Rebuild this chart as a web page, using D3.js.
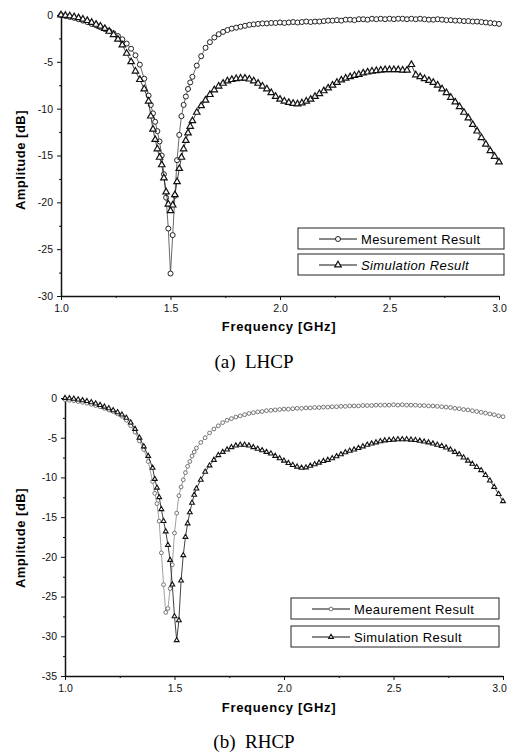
<!DOCTYPE html>
<html>
<head>
<meta charset="utf-8">
<script src="https://cdn.jsdelivr.net/npm/d3@7"></script>
<style>
  body { margin: 0; background: #fff; }
  svg { display: block; }
  .tick text { font-family: "Liberation Sans", Arial, sans-serif; font-size: 10.5px; fill: #111; }
</style>
</head>
<body>
<div id="chart"></div>
<script>
//DATA--------------------
// frequency samples [GHz], denser around the dip
var freq = [
  1.00, 1.02, 1.04, 1.06, 1.08, 1.10, 1.12, 1.14, 1.16, 1.18, 1.20, 1.22, 1.24, 1.26, 1.28, 1.30, 1.32, 1.34, 1.36, 1.38, 1.40,
  1.41, 1.42, 1.43, 1.44, 1.45, 1.46, 1.47, 1.48, 1.49, 1.50, 1.51, 1.52, 1.53, 1.54, 1.55, 1.56, 1.57, 1.58, 1.59,
  1.60, 1.62, 1.64, 1.66, 1.68, 1.70, 1.72, 1.74, 1.76, 1.78,
  1.80, 1.82, 1.84, 1.86, 1.88, 1.90, 1.92, 1.94, 1.96, 1.98,
  2.00, 2.02, 2.04, 2.06, 2.08, 2.10, 2.12, 2.14, 2.16, 2.18,
  2.20, 2.22, 2.24, 2.26, 2.28, 2.30, 2.32, 2.34, 2.36, 2.38,
  2.40, 2.42, 2.44, 2.46, 2.48, 2.50, 2.52, 2.54, 2.56, 2.58,
  2.60, 2.62, 2.64, 2.66, 2.68, 2.70, 2.72, 2.74, 2.76, 2.78,
  2.80, 2.82, 2.84, 2.86, 2.88, 2.90, 2.92, 2.94, 2.96, 2.98,
  3.00
];

// (a) LHCP
var lhcpMeas = [
  0, -0.1, -0.2, -0.3, -0.45, -0.6, -0.75, -0.95, -1.1, -1.3, -1.5, -1.7, -1.95, -2.25, -2.6, -3.05, -3.6, -4.3, -5.3, -6.8, -8.6,
  -9.6, -10.5, -11.4, -12.4, -13.5, -15.0, -17.0, -19.5, -22.8, -27.6, -23.5, -19.3, -15.5, -12.8, -10.8, -9.6, -8.7, -7.9, -7.2,
  -6.6, -5.4, -4.4, -3.5, -2.9, -2.4, -2.05, -1.8, -1.6, -1.45,
  -1.35, -1.25, -1.15, -1.05, -1.0, -0.95, -0.9, -0.9, -0.85, -0.85,
  -0.8, -0.85, -0.8, -0.75, -0.8, -0.75, -0.7, -0.75, -0.7, -0.7,
  -0.65, -0.6, -0.6, -0.55, -0.6, -0.5, -0.5, -0.55, -0.45, -0.45,
  -0.5, -0.4, -0.45, -0.4, -0.45, -0.4, -0.45, -0.4, -0.4, -0.45,
  -0.4, -0.45, -0.4, -0.45, -0.5, -0.5, -0.45, -0.5, -0.55, -0.55,
  -0.6, -0.6, -0.65, -0.65, -0.7, -0.7, -0.75, -0.8, -0.85, -0.9,
  -0.95
];
var lhcpSim = [
  0, -0.05, -0.1, -0.2, -0.3, -0.45, -0.6, -0.8, -1.0, -1.2, -1.45, -1.75, -2.1, -2.6, -3.2, -4.1, -5.0, -6.0, -6.9, -7.9, -9.2,
  -10.8, -12.2, -13.3, -14.3, -15.2, -16.0, -17.4, -18.9, -20.2, -20.9, -20.3, -19.2, -17.8, -16.4, -15.2, -14.3, -13.4, -12.6, -11.9,
  -11.3, -10.4, -9.7, -9.1, -8.5, -8.0, -7.6, -7.3, -7.05, -6.9,
  -6.8, -6.75, -6.75, -6.85, -7.05, -7.3, -7.6, -7.9, -8.3, -8.7,
  -9.0, -9.2, -9.35, -9.45, -9.5, -9.4, -9.2, -9.0, -8.7, -8.4,
  -8.1, -7.8, -7.5, -7.2, -6.95, -6.75, -6.6, -6.45, -6.35, -6.2,
  -6.1, -6.0, -5.95, -5.9, -5.85, -5.85, -5.85, -5.85, -5.9, -5.9,
  -5.3, -6.4, -6.6, -6.8, -7.0, -7.2, -7.5, -7.9, -8.3, -8.8,
  -9.3, -9.8, -10.4, -11.0, -11.7, -12.4, -13.1, -13.8, -14.5, -15.1,
  -15.7
];

// (b) RHCP
var rhcpMeas = [
  -0.2, -0.3, -0.35, -0.45, -0.55, -0.65, -0.8, -0.95, -1.1, -1.3, -1.5, -1.7, -2.0, -2.3, -2.8, -3.5, -4.3, -5.4, -6.5, -8.0, -10.5,
  -12.0, -13.3, -15.5, -19.5, -23.5, -27.0, -26.5, -24.0, -21.0, -17.0, -14.5, -12.3, -11.2, -10.3, -9.4, -8.6, -8.0, -7.3, -6.8,
  -6.3, -5.6, -5.0, -4.4, -3.9, -3.5, -3.1, -2.8, -2.6, -2.4,
  -2.25, -2.1, -1.95, -1.85, -1.75, -1.7, -1.6, -1.55, -1.5, -1.45,
  -1.4, -1.4, -1.35, -1.3, -1.3, -1.25, -1.25, -1.2, -1.2, -1.15,
  -1.15, -1.1, -1.1, -1.05, -1.05, -1.0, -1.0, -1.0, -0.95, -0.95,
  -0.95, -0.9, -0.9, -0.9, -0.9, -0.85, -0.9, -0.85, -0.9, -0.9,
  -0.9, -0.95, -0.95, -1.0, -1.0, -1.05, -1.1, -1.15, -1.2, -1.3,
  -1.35, -1.45, -1.5, -1.6, -1.7, -1.8, -1.9, -2.0, -2.1, -2.25,
  -2.35
];
var rhcpSim = [
  0, -0.05, -0.1, -0.2, -0.3, -0.4, -0.55, -0.7, -0.9, -1.1, -1.3, -1.55, -1.8, -2.1, -2.5, -3.1, -3.9, -5.0, -6.1, -7.3, -8.8,
  -10.2, -11.3, -12.5, -14.0, -15.5, -16.8, -18.5, -20.4, -23.5, -27.5, -30.5, -28.0, -23.0, -19.8, -17.5, -15.8, -14.4, -13.2, -12.2,
  -11.4, -10.3, -9.3, -8.5, -7.8, -7.2, -6.8, -6.5, -6.2, -6.0,
  -5.9, -5.9, -6.0, -6.2, -6.4, -6.6, -6.8, -7.0, -7.3, -7.6,
  -7.9, -8.2, -8.45, -8.65, -8.8, -8.75, -8.55, -8.35, -8.15, -7.95,
  -7.8, -7.6, -7.35, -7.1, -6.85, -6.65, -6.5, -6.3, -6.1, -5.9,
  -5.75, -5.6, -5.45, -5.35, -5.3, -5.25, -5.2, -5.2, -5.2, -5.25,
  -5.3, -5.4, -5.5, -5.6, -5.75, -5.9, -6.05, -6.25, -6.5, -6.8,
  -7.1, -7.5, -7.9, -8.3, -8.7, -9.1, -9.7, -10.4, -11.2, -12.1,
  -13.0
];

var xTicks = [1.0, 1.5, 2.0, 2.5, 3.0];
var xMinorTicks = [1.25, 1.75, 2.25, 2.75];
var lhcpTicks = [0, -5, -10, -15, -20, -25, -30];
var rhcpTicks = [0, -5, -10, -15, -20, -25, -30, -35];
var legendA = ["Mesurement Result", "Simulation Result"];
var legendB = ["Meaurement Result", "Simulation Result"];
var captions = ["(a)  LHCP", "(b)  RHCP"];

//SVG--------------------
var svg = d3.select("#chart")
  .append("svg")
  .attr("width", 509)
  .attr("height", 754);

function drawPanel(p) {
  var x = d3.scaleLinear().domain([1.0, 3.0]).range([p.left, p.right]);
  var y = d3.scaleLinear().domain([p.yMin, 0]).range([p.bottom, p.top]);

  var minorY = [];
  p.yTicks.forEach(function(t) { if (t > p.yMin) minorY.push(t - 2.5); });

  var g = svg.append("g");

  // minor ticks
  g.append("g")
    .attr("transform", `translate(0, ${p.bottom})`)
    .call(d3.axisBottom(x).tickValues(xMinorTicks).tickSize(2).tickFormat(""))
    .call(a => a.select(".domain").remove());
  g.append("g")
    .attr("transform", `translate(${p.left}, 0)`)
    .call(d3.axisLeft(y).tickValues(minorY).tickSize(2).tickFormat(""))
    .call(a => a.select(".domain").remove());

  // major axes
  var xAxis = g.append("g")
    .attr("transform", `translate(0, ${p.bottom})`)
    .call(d3.axisBottom(x).tickValues(xTicks).tickSize(4).tickSizeOuter(0)
      .tickFormat(d3.format(".1f")));
  xAxis.selectAll(".tick text").attr("dy", "0.9em");
  // keep the last label inside the page
  xAxis.selectAll(".tick text").filter(d => d === 3.0).attr("dx", p.lastDx);

  var yAxis = g.append("g")
    .attr("transform", `translate(${p.left}, 0)`)
    .call(d3.axisLeft(y).tickValues(p.yTicks).tickSize(4).tickSizeOuter(0)
      .tickFormat(d => d === 0 ? "0" : "-" + Math.abs(d)));
  yAxis.selectAll(".tick text").attr("x", -8);

  g.selectAll(".domain").attr("stroke", "#111").attr("stroke-width", 1.5);
  g.selectAll(".tick line").attr("stroke", "#111").attr("stroke-width", 1);

  // curves
  var line = d3.line().x((d, i) => x(freq[i])).y(d => y(d));
  var tri = d3.symbol().type(d3.symbolTriangle).size(p.triSize);

  p.series.forEach(function(s) {
    g.append("path")
      .datum(s.values)
      .attr("fill", "none")
      .attr("stroke", s.lineColor)
      .attr("stroke-width", 0.8)
      .attr("d", line);

    var marks = g.append("g").selectAll("path")
      .data(s.values)
      .enter();
    if (s.shape === "circle") {
      marks.append("circle")
        .attr("cx", (d, i) => x(freq[i]))
        .attr("cy", d => y(d))
        .attr("r", s.r)
        .attr("fill", "white")
        .attr("stroke", s.color)
        .attr("stroke-width", s.sw);
    } else {
      marks.append("path")
        .attr("d", tri)
        .attr("transform", (d, i) => `translate(${x(freq[i])}, ${y(d)})`)
        .attr("fill", s.fill)
        .attr("stroke", s.color)
        .attr("stroke-width", s.sw);
    }
  });

  // axis titles
  g.append("text")
    .attr("transform", `translate(${p.yLabelX}, ${p.yLabelY}) rotate(-90)`)
    .attr("text-anchor", "middle")
    .attr("font-family", "Liberation Sans, Arial, sans-serif")
    .attr("font-weight", "bold")
    .attr("font-size", 13)
    .attr("letter-spacing", 0.5)
    .text("Amplitude [dB]");

  g.append("text")
    .attr("x", 279)
    .attr("y", p.xLabelY)
    .attr("text-anchor", "middle")
    .attr("font-family", "Liberation Sans, Arial, sans-serif")
    .attr("font-weight", "bold")
    .attr("font-size", 13)
    .attr("letter-spacing", 0.7)
    .text("Frequency [GHz]");

  g.append("text")
    .attr("x", 254)
    .attr("y", p.captionY)
    .attr("text-anchor", "middle")
    .attr("font-family", "Liberation Serif, Times New Roman, serif")
    .attr("font-size", 19)
    .attr("xml:space", "preserve")
    .text(p.caption);

  // legend
  p.series.forEach(function(s, i) {
    var by = p.legendY + i * p.legendGap;
    g.append("rect")
      .attr("x", p.legendX)
      .attr("y", by)
      .attr("width", p.legendW)
      .attr("height", 21)
      .attr("fill", "white")
      .attr("stroke", "#222")
      .attr("stroke-width", 1);
    var lx = p.legendX + p.lineOff;
    g.append("line")
      .attr("x1", lx).attr("x2", lx + 38)
      .attr("y1", by + 11).attr("y2", by + 11)
      .attr("stroke", "#111").attr("stroke-width", 1);
    if (s.shape === "circle") {
      g.append("circle")
        .attr("cx", lx + 19).attr("cy", by + 11).attr("r", s.r)
        .attr("fill", "white").attr("stroke", s.color).attr("stroke-width", s.sw);
    } else {
      g.append("path")
        .attr("d", tri)
        .attr("transform", `translate(${lx + 19}, ${by + 11})`)
        .attr("fill", s.fill).attr("stroke", s.color).attr("stroke-width", s.sw);
    }
    g.append("text")
      .attr("x", lx + 42)
      .attr("y", by + 15.5)
      .attr("font-family", "Liberation Sans, Arial, sans-serif")
      .attr("font-size", 13)
      .attr("letter-spacing", 0.4)
      .attr("font-style", i === 1 && p.italicSim ? "italic" : "normal")
      .text(p.legend[i]);
  });
}

drawPanel({
  left: 61, right: 499, top: 15, bottom: 296, yMin: -30,
  yTicks: lhcpTicks, triSize: 18, lastDx: 0,
  yLabelX: 25, yLabelY: 160, xLabelY: 331, captionY: 368,
  caption: captions[0], legend: legendA, italicSim: true,
  legendX: 298, legendY: 228, legendGap: 26, legendW: 206, lineOff: 21,
  series: [
    { values: lhcpMeas, shape: "circle", r: 2.5, color: "#222", sw: 1, lineColor: "#444" },
    { values: lhcpSim, shape: "tri", fill: "white", color: "#111", sw: 1.2, lineColor: "#111" }
  ]
});

drawPanel({
  left: 65, right: 503, top: 398, bottom: 676, yMin: -35,
  yTicks: rhcpTicks, triSize: 10, lastDx: -4,
  yLabelX: 25, yLabelY: 538, xLabelY: 712, captionY: 748,
  caption: captions[1], legend: legendB, italicSim: false,
  legendX: 291, legendY: 598, legendGap: 28, legendW: 208, lineOff: 21,
  series: [
    { values: rhcpMeas, shape: "circle", r: 1.9, color: "#666", sw: 0.9, lineColor: "#888" },
    { values: rhcpSim, shape: "tri", fill: "#fff", color: "#111", sw: 1.1, lineColor: "#111" }
  ]
});
</script>
</body>
</html>
